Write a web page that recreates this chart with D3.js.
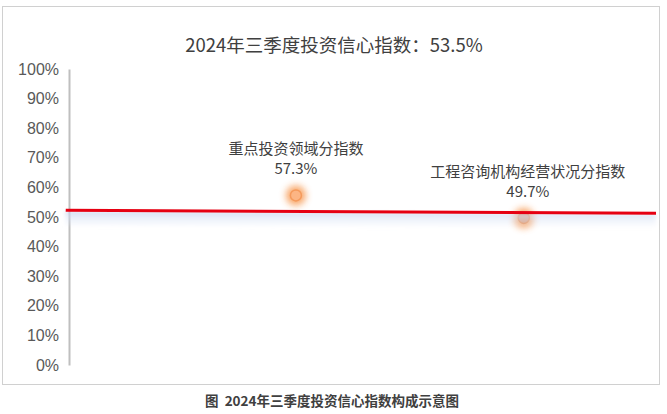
<!DOCTYPE html>
<html>
<head>
<meta charset="utf-8">
<script src="https://cdn.jsdelivr.net/npm/d3@7"></script>
<style>
    body { margin: 0; background: #fff; }
    svg { display: block; font-family: "Noto Sans CJK SC", "Noto Sans", sans-serif; }
</style>
</head>
<body>
<script>
// chart data
var titleText = '2024年三季度投资信心指数：53.5%';
var captionText = '图  2024年三季度投资信心指数构成示意图';
var pointNames = ['重点投资领域分指数', '工程咨询机构经营状况分指数'];
var pointX = [1, 2];
var pointValues = [57.3, 49.7];
// red index line, read at its two ends
var lineX = [-0.01, 2.58];
var lineValues = [52.3, 51.3];
var yTicks = [0, 10, 20, 30, 40, 50, 60, 70, 80, 90, 100];

var svgWidth = 667;
var svgHeight = 414;

var svg = d3.select('body').append('svg')
    .attr('width', svgWidth)
    .attr('height', svgHeight);

var defs = svg.append('defs');

var glow = defs.append('filter').attr('id', 'glow')
    .attr('x', '-100%').attr('y', '-100%').attr('width', '300%').attr('height', '300%');
glow.append('feGaussianBlur').attr('stdDeviation', 3.5);

var shadowBlur = defs.append('filter').attr('id', 'shadowBlur')
    .attr('x', '-5%').attr('y', '-100%').attr('width', '110%').attr('height', '300%');
shadowBlur.append('feGaussianBlur').attr('stdDeviation', '2 1.5');

var grad = defs.append('linearGradient').attr('id', 'shadowGrad')
    .attr('x1', 0).attr('y1', 0).attr('x2', 0).attr('y2', 1);
grad.append('stop').attr('offset', '0%').attr('stop-color', '#c9d5f0').attr('stop-opacity', 0.8);
grad.append('stop').attr('offset', '100%').attr('stop-color', '#e8eefa').attr('stop-opacity', 0);

// outer frame
svg.append('rect')
    .attr('x', 2.5).attr('y', 6.5)
    .attr('width', 657).attr('height', 378)
    .attr('fill', '#fff')
    .attr('stroke', '#d0d0d0')
    .attr('stroke-width', 1);

var x = d3.scaleLinear().domain([0, 2.58]).range([68, 656]);
var y = d3.scaleLinear().domain([0, 100]).range([365, 69]);

// y axis
var yAxis = d3.axisLeft(y)
    .tickValues(yTicks)
    .tickSize(0)
    .tickPadding(10)
    .tickFormat(function (d) { return d + '%'; });

var gy = svg.append('g')
    .attr('transform', 'translate(69,0)')
    .call(yAxis);
gy.select('.domain').attr('stroke', '#bfbfbf').attr('stroke-width', 2);
gy.selectAll('text')
    .attr('fill', '#595959')
    .style('font-size', '16px');

// title
svg.append('text')
    .attr('x', 334).attr('y', 52)
    .attr('text-anchor', 'middle')
    .attr('fill', '#404040')
    .style('font-size', '18.5px')
    .text(titleText);

var points = pointX.map(function (d, i) {
    return { x: d, v: pointValues[i], name: pointNames[i] };
});

// glowing points
var pg = svg.append('g');
pg.selectAll('circle.halo')
    .data(points)
    .enter()
    .append('circle')
    .attr('class', 'halo')
    .attr('cx', function (d) { return x(d.x); })
    .attr('cy', function (d) { return y(d.v); })
    .attr('r', 10)
    .attr('fill', '#f8a260')
    .attr('opacity', 0.95)
    .attr('filter', 'url(#glow)');

pg.selectAll('circle.dot')
    .data(points)
    .enter()
    .append('circle')
    .attr('class', 'dot')
    .attr('cx', function (d) { return x(d.x); })
    .attr('cy', function (d) { return y(d.v); })
    .attr('r', 5.5)
    .attr('fill', function (d, i) { return i === 0 ? '#fcb584' : '#dfa382'; })
    .attr('stroke', function (d, i) { return i === 0 ? '#f59a5c' : '#e8945e'; })
    .attr('stroke-width', 1.5);

// line shadow and red line
var linePts = lineX.map(function (d, i) { return [x(d), y(lineValues[i])]; });
var line = d3.line();

var shadowPts = [
    [linePts[0][0], linePts[0][1] + 1],
    [linePts[1][0], linePts[1][1] + 1],
    [linePts[1][0], linePts[1][1] + 16],
    [linePts[0][0], linePts[0][1] + 16]
];
svg.append('path')
    .attr('d', line(shadowPts) + 'Z')
    .attr('fill', 'url(#shadowGrad)')
    .attr('filter', 'url(#shadowBlur)');

svg.append('path')
    .attr('d', line(linePts))
    .attr('stroke', '#e60012')
    .attr('stroke-width', 3)
    .attr('fill', 'none');

// point labels
var labels = svg.append('g')
    .selectAll('g')
    .data(points)
    .enter()
    .append('g')
    .attr('transform', function (d, i) {
        return 'translate(' + (x(d.x) + i * 4) + ',' + (y(d.v) - 21) + ')';
    });

labels.append('text')
    .attr('y', -20)
    .attr('text-anchor', 'middle')
    .attr('fill', '#404040')
    .style('font-size', '15px')
    .text(function (d) { return d.name; });

labels.append('text')
    .attr('y', 0)
    .attr('text-anchor', 'middle')
    .attr('fill', '#404040')
    .style('font-size', '15px')
    .text(function (d) { return d.v + '%'; });

// caption
svg.append('text')
    .attr('x', 332).attr('y', 406)
    .attr('text-anchor', 'middle')
    .attr('fill', '#404040')
    .style('font-size', '13.5px')
    .style('font-weight', 'bold')
    .style('white-space', 'pre')
    .text(captionText);
</script>
</body>
</html>
